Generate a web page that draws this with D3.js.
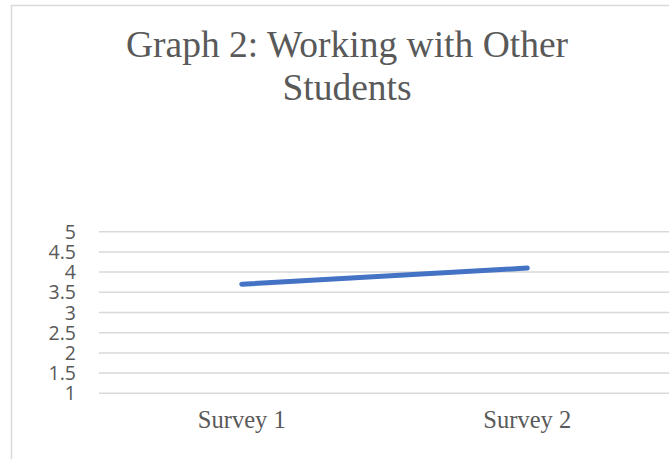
<!DOCTYPE html>
<html>
<head>
<meta charset="utf-8">
<script src="https://cdn.jsdelivr.net/npm/d3@7"></script>
<style>
  body { margin: 0; background: #fff; }
</style>
</head>
<body>
<div id="chart"></div>
<script>
const categories = ["Survey 1", "Survey 2"];
const values = [3.7, 4.1];
const yTicks = [1, 1.5, 2, 2.5, 3, 3.5, 4, 4.5, 5];
const titleLines = ["Graph 2: Working with Other", "Students"];

const W = 669, H = 459;
const plot = { left: 99, right: 670, top: 231.7, bottom: 393.3 };

const svg = d3.select("#chart")
  .append("svg")
    .attr("width", W)
    .attr("height", H);

// chart frame (only top and left edges visible in the crop)
svg.append("path")
  .attr("d", `M11.5,${H} V5.5 H${W}`)
  .attr("fill", "none")
  .attr("stroke", "#d9d9d9")
  .attr("stroke-width", 1.5);

const x = d3.scaleBand()
  .domain(categories)
  .range([plot.left, plot.right])
  .padding(0);

const y = d3.scaleLinear()
  .domain([1, 5])
  .range([plot.bottom, plot.top]);

// gridlines
svg.append("g")
  .selectAll("line")
  .data(yTicks)
  .join("line")
    .attr("x1", plot.left)
    .attr("x2", W)
    .attr("y1", d => y(d))
    .attr("y2", d => y(d))
    .attr("stroke", "#d9d9d9")
    .attr("stroke-width", 1.5);

// y labels (tight like the original, they nearly touch)
svg.append("g")
  .selectAll("text")
  .data(yTicks)
  .join("text")
    .attr("x", 76)
    .attr("y", d => y(d))
    .attr("dy", "0.36em")
    .attr("text-anchor", "end")
    .attr("fill", "#595959")
    .style("font-family", "'Open Sans', 'Noto Sans', sans-serif")
    .style("font-size", "19.5px")
    .text(d => d);

// x labels
svg.append("g")
  .selectAll("text")
  .data(categories)
  .join("text")
    .attr("x", d => x(d) + x.bandwidth() / 2)
    .attr("y", 428)
    .attr("text-anchor", "middle")
    .attr("fill", "#595959")
    .style("font-family", "'Liberation Serif', 'Times New Roman', serif")
    .style("font-size", "24.5px")
    .text(d => d);

// line
const line = d3.line()
  .x((d, i) => x(categories[i]) + x.bandwidth() / 2)
  .y(d => y(d));

svg.append("path")
  .datum(values)
  .attr("d", line)
  .attr("fill", "none")
  .attr("stroke", "#4472c4")
  .attr("stroke-width", 5)
  .attr("stroke-linecap", "round");

// title
svg.append("g")
  .selectAll("text")
  .data(titleLines)
  .join("text")
    .attr("x", 347)
    .attr("y", (d, i) => 57 + i * 43)
    .attr("text-anchor", "middle")
    .attr("fill", "#595959")
    .style("font-family", "'Liberation Serif', 'Times New Roman', serif")
    .style("font-size", "37.5px")
    .text(d => d);
</script>
</body>
</html>
